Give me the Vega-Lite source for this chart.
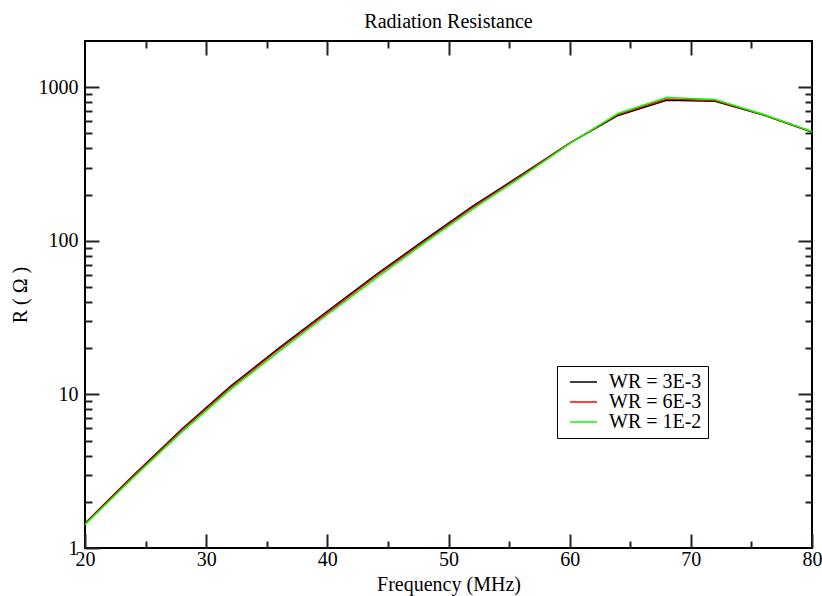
{
  "$schema": "https://vega.github.io/schema/vega-lite/v6.json",
  "width": 727,
  "height": 507,
  "autosize": {"type": "none"},
  "padding": {"left": 85, "top": 41, "right": 10, "bottom": 48},
  "background": "white",
  "title": {"text": "Radiation Resistance", "font": "Liberation Serif", "fontSize": 20, "fontWeight": "normal", "color": "black", "anchor": "middle", "offset": 8},
  "data": {"values": [
    {"f": 20, "R": 1.45, "s": "WR = 3E-3"}, {"f": 24, "R": 2.98, "s": "WR = 3E-3"}, {"f": 28, "R": 5.95, "s": "WR = 3E-3"}, {"f": 32, "R": 11.3, "s": "WR = 3E-3"},
    {"f": 36, "R": 20.0, "s": "WR = 3E-3"}, {"f": 40, "R": 34.8, "s": "WR = 3E-3"}, {"f": 44, "R": 60, "s": "WR = 3E-3"}, {"f": 48, "R": 101, "s": "WR = 3E-3"},
    {"f": 52, "R": 168, "s": "WR = 3E-3"}, {"f": 56, "R": 269, "s": "WR = 3E-3"}, {"f": 60, "R": 432, "s": "WR = 3E-3"}, {"f": 64, "R": 655, "s": "WR = 3E-3"},
    {"f": 68, "R": 822, "s": "WR = 3E-3"}, {"f": 72, "R": 810, "s": "WR = 3E-3"}, {"f": 76, "R": 660, "s": "WR = 3E-3"}, {"f": 80, "R": 510, "s": "WR = 3E-3"},
    {"f": 20, "R": 1.44, "s": "WR = 6E-3"}, {"f": 24, "R": 2.94, "s": "WR = 6E-3"}, {"f": 28, "R": 5.85, "s": "WR = 6E-3"}, {"f": 32, "R": 11.05, "s": "WR = 6E-3"},
    {"f": 36, "R": 19.6, "s": "WR = 6E-3"}, {"f": 40, "R": 34.0, "s": "WR = 6E-3"}, {"f": 44, "R": 58.8, "s": "WR = 6E-3"}, {"f": 48, "R": 99, "s": "WR = 6E-3"},
    {"f": 52, "R": 165, "s": "WR = 6E-3"}, {"f": 56, "R": 265, "s": "WR = 6E-3"}, {"f": 60, "R": 432, "s": "WR = 6E-3"}, {"f": 64, "R": 665, "s": "WR = 6E-3"},
    {"f": 68, "R": 838, "s": "WR = 6E-3"}, {"f": 72, "R": 820, "s": "WR = 6E-3"}, {"f": 76, "R": 662, "s": "WR = 6E-3"}, {"f": 80, "R": 512, "s": "WR = 6E-3"},
    {"f": 20, "R": 1.42, "s": "WR = 1E-2"}, {"f": 24, "R": 2.88, "s": "WR = 1E-2"}, {"f": 28, "R": 5.7, "s": "WR = 1E-2"}, {"f": 32, "R": 10.75, "s": "WR = 1E-2"},
    {"f": 36, "R": 19.0, "s": "WR = 1E-2"}, {"f": 40, "R": 33.0, "s": "WR = 1E-2"}, {"f": 44, "R": 57, "s": "WR = 1E-2"}, {"f": 48, "R": 96.5, "s": "WR = 1E-2"},
    {"f": 52, "R": 161, "s": "WR = 1E-2"}, {"f": 56, "R": 260, "s": "WR = 1E-2"}, {"f": 60, "R": 430, "s": "WR = 1E-2"}, {"f": 64, "R": 675, "s": "WR = 1E-2"},
    {"f": 68, "R": 858, "s": "WR = 1E-2"}, {"f": 72, "R": 832, "s": "WR = 1E-2"}, {"f": 76, "R": 665, "s": "WR = 1E-2"}, {"f": 80, "R": 515, "s": "WR = 1E-2"}
  ]},
  "resolve": {"scale": {"x": "independent", "y": "independent"}, "axis": {"x": "independent", "y": "independent"}},
  "layer": [
    {
      "mark": {"type": "line", "strokeWidth": 1.5, "clip": true},
      "encoding": {
        "x": {"field": "f", "type": "quantitative", "scale": {"domain": [20, 80], "nice": false, "zero": false},
              "axis": {"orient": "bottom", "values": [20, 30, 40, 50, 60, 70, 80], "ticks": true, "tickSize": 14, "offset": -14, "tickColor": "#222222", "tickWidth": 2, "labelPadding": 1, "title": "Frequency (MHz)", "titlePadding": 5}},
        "y": {"field": "R", "type": "quantitative", "scale": {"type": "log", "domain": [1, 2000], "nice": false},
              "axis": {"orient": "left", "values": [1, 10, 100, 1000], "format": "d", "ticks": true, "tickSize": 14, "offset": -14, "tickColor": "#222222", "tickWidth": 2, "labelPadding": 7, "title": "R ( Ω )", "titlePadding": 8}},
        "color": {"field": "s", "type": "nominal",
                  "scale": {"domain": ["WR = 3E-3", "WR = 6E-3", "WR = 1E-2"], "range": ["#000000", "#ff0000", "#00ff00"]},
                  "legend": {"orient": "none", "legendX": 472, "legendY": 325, "title": null}}
      }
    },
    {
      "mark": {"type": "line", "strokeOpacity": 0},
      "encoding": {
        "x": {"field": "f", "type": "quantitative", "scale": {"domain": [20, 80], "nice": false, "zero": false},
              "axis": {"orient": "bottom", "values": [25, 35, 45, 55, 65, 75], "labels": false, "ticks": true, "tickSize": 7, "offset": -7, "tickColor": "#222222", "tickWidth": 2, "title": null}},
        "y": {"field": "R", "type": "quantitative", "scale": {"type": "log", "domain": [1, 2000], "nice": false},
              "axis": {"orient": "left", "values": [2, 3, 4, 5, 6, 7, 8, 9, 20, 30, 40, 50, 60, 70, 80, 90, 200, 300, 400, 500, 600, 700, 800, 900], "labels": false, "ticks": true, "tickSize": 7, "offset": -7, "tickColor": "#222222", "tickWidth": 2, "title": null}},
        "detail": {"field": "s", "type": "nominal"}
      }
    },
    {
      "mark": {"type": "line", "strokeOpacity": 0},
      "encoding": {
        "x": {"field": "f", "type": "quantitative", "scale": {"domain": [20, 80], "nice": false, "zero": false},
              "axis": {"orient": "top", "values": [30, 40, 50, 60, 70], "labels": false, "ticks": true, "tickSize": 14, "offset": -14, "tickColor": "#222222", "tickWidth": 2, "title": null}},
        "y": {"field": "R", "type": "quantitative", "scale": {"type": "log", "domain": [1, 2000], "nice": false},
              "axis": {"orient": "right", "values": [10, 100, 1000], "labels": false, "ticks": true, "tickSize": 14, "offset": -14, "tickColor": "#222222", "tickWidth": 2, "title": null}},
        "detail": {"field": "s", "type": "nominal"}
      }
    },
    {
      "mark": {"type": "line", "strokeOpacity": 0},
      "encoding": {
        "x": {"field": "f", "type": "quantitative", "scale": {"domain": [20, 80], "nice": false, "zero": false},
              "axis": {"orient": "top", "values": [25, 35, 45, 55, 65, 75], "labels": false, "ticks": true, "tickSize": 7, "offset": -7, "tickColor": "#222222", "tickWidth": 2, "title": null}},
        "y": {"field": "R", "type": "quantitative", "scale": {"type": "log", "domain": [1, 2000], "nice": false},
              "axis": {"orient": "right", "values": [2, 3, 4, 5, 6, 7, 8, 9, 20, 30, 40, 50, 60, 70, 80, 90, 200, 300, 400, 500, 600, 700, 800, 900], "labels": false, "ticks": true, "tickSize": 7, "offset": -7, "tickColor": "#222222", "tickWidth": 2, "title": null}},
        "detail": {"field": "s", "type": "nominal"}
      }
    }
  ],
  "config": {
    "view": {"stroke": "#000000", "strokeWidth": 2},
    "axis": {
      "domain": false, "grid": false,
      "labelFont": "Liberation Serif", "labelFontSize": 20, "labelColor": "#000000", "labelFlush": false, "labelOverlap": false,
      "titleFont": "Liberation Serif", "titleFontSize": 20, "titleFontWeight": "normal", "titleColor": "#000000"
    },
    "legend": {
      "labelFont": "Liberation Serif", "labelFontSize": 20, "labelColor": "#000000",
      "strokeColor": "#000000", "fillColor": "#ffffff", "padding": 6, "cornerRadius": 0,
      "symbolType": "M-0.5,0H4", "symbolSize": 144, "symbolStrokeWidth": 1.5, "rowPadding": 0, "labelOffset": 26,
      "labelLimit": 300
    }
  }
}
